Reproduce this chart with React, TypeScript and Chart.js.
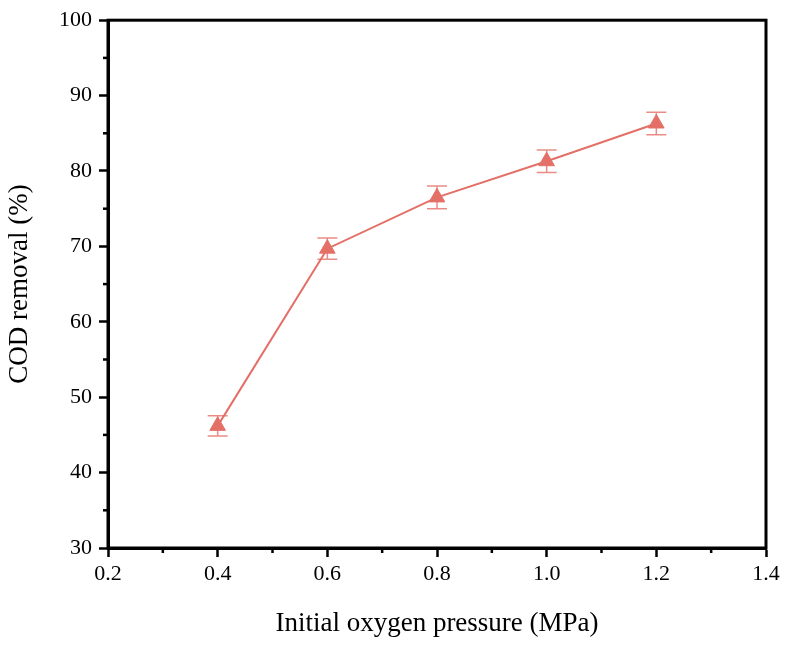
import React, { useEffect, useRef } from 'react';
import { Chart, ChartConfiguration, Plugin } from 'chart.js/auto';

const pressure = [0.4, 0.6, 0.8, 1.0, 1.2];
const codRemoval = [46.2, 69.7, 76.5, 81.3, 86.3];
const codError = [1.35, 1.4, 1.5, 1.5, 1.5];

const lineColor = 'rgb(228, 111, 103)';
const errColor = 'rgba(228, 111, 103, 0.8)';
const fontFamily = '"Liberation Serif", "Times New Roman", serif';

// error bars drawn from the data arrays through the scales
const errorBars: Plugin = {
  id: 'errorBars',
  beforeDatasetsDraw(chart) {
    const { ctx, scales } = chart;
    const x = scales.x;
    const y = scales.y;
    ctx.save();
    ctx.strokeStyle = errColor;
    ctx.lineWidth = 1.5;
    pressure.forEach((p, i) => {
      const px = x.getPixelForValue(p);
      const top = y.getPixelForValue(codRemoval[i] + codError[i]);
      const bot = y.getPixelForValue(codRemoval[i] - codError[i]);
      ctx.beginPath();
      ctx.moveTo(px, top);
      ctx.lineTo(px, bot);
      ctx.moveTo(px - 10, top);
      ctx.lineTo(px + 10, top);
      ctx.moveTo(px - 10, bot);
      ctx.lineTo(px + 10, bot);
      ctx.stroke();
    });
    ctx.restore();
  },
};

// box frame plus short minor ticks between the major ones
const frameAndMinor: Plugin = {
  id: 'frameAndMinor',
  afterDraw(chart) {
    const { ctx, chartArea, scales } = chart;
    ctx.save();
    ctx.strokeStyle = '#000';
    ctx.lineWidth = 2.5;
    const xt = scales.x.ticks.map(t => t.value);
    for (let i = 0; i < xt.length - 1; i++) {
      const px = scales.x.getPixelForValue((xt[i] + xt[i + 1]) / 2);
      ctx.beginPath();
      ctx.moveTo(px, chartArea.bottom);
      ctx.lineTo(px, chartArea.bottom + 5);
      ctx.stroke();
    }
    const yt = scales.y.ticks.map(t => t.value);
    for (let i = 0; i < yt.length - 1; i++) {
      const py = scales.y.getPixelForValue((yt[i] + yt[i + 1]) / 2);
      ctx.beginPath();
      ctx.moveTo(chartArea.left, py);
      ctx.lineTo(chartArea.left - 5, py);
      ctx.stroke();
    }
    ctx.lineWidth = 3;
    ctx.strokeRect(chartArea.left, chartArea.top, chartArea.right - chartArea.left, chartArea.bottom - chartArea.top);
    ctx.restore();
  },
};

const App: React.FC = () => {
  const chartRef = useRef<HTMLCanvasElement>(null);
  const chartInstanceRef = useRef<Chart | null>(null);

  useEffect(() => {
    if (!chartRef.current) return;
    const ctx = chartRef.current.getContext('2d');
    if (!ctx) return;
    if (chartInstanceRef.current) chartInstanceRef.current.destroy();

    const config: ChartConfiguration = {
      type: 'line',
      data: {
        datasets: [{
          label: 'COD removal',
          data: pressure.map((p, i) => ({ x: p, y: codRemoval[i] })),
          borderColor: lineColor,
          backgroundColor: lineColor,
          borderWidth: 2,
          pointStyle: 'triangle',
          pointRadius: 9,
          pointBorderWidth: 1,
          pointBackgroundColor: lineColor,
          pointBorderColor: lineColor,
          tension: 0,
        }],
      },
      options: {
        animation: false,
        responsive: true,
        maintainAspectRatio: false,
        layout: { padding: { top: 18, right: 22, left: 0, bottom: 0 } },
        plugins: {
          legend: { display: false },
          tooltip: { enabled: false },
        },
        scales: {
          x: {
            type: 'linear',
            min: 0.2,
            max: 1.4,
            afterFit: (scale) => { scale.height = 98; },
            ticks: {
              stepSize: 0.2,
              padding: 4,
              color: '#000',
              font: { family: fontFamily, size: 22 },
              callback: (v) => Number(v).toFixed(1),
            },
            grid: { drawOnChartArea: false, drawTicks: true, tickLength: 9, tickWidth: 2.5, tickColor: '#000' },
            border: { display: true, color: '#000', width: 3 },
            title: {
              display: true,
              text: 'Initial oxygen pressure (MPa)',
              color: '#000',
              font: { family: fontFamily, size: 27 },
              padding: { top: 0, bottom: 6 },
            },
          },
          y: {
            type: 'linear',
            min: 30,
            max: 100,
            afterFit: (scale) => { scale.width = 108; },
            ticks: {
              stepSize: 10,
              padding: 7,
              color: '#000',
              font: { family: fontFamily, size: 22 },
            },
            grid: { drawOnChartArea: false, drawTicks: true, tickLength: 9, tickWidth: 2.5, tickColor: '#000' },
            border: { display: true, color: '#000', width: 3 },
            title: {
              display: true,
              text: 'COD removal (%)',
              color: '#000',
              font: { family: fontFamily, size: 27 },
              padding: { top: 4, bottom: 0 },
            },
          },
        },
      },
      plugins: [errorBars, frameAndMinor],
    };

    chartInstanceRef.current = new Chart(ctx, config);
    return () => {
      if (chartInstanceRef.current) {
        chartInstanceRef.current.destroy();
        chartInstanceRef.current = null;
      }
    };
  }, []);

  return (
    <div style={{ position: 'absolute', left: 0, top: 0, width: 788, height: 646, background: '#fff' }}>
      <canvas ref={chartRef}></canvas>
    </div>
  );
};

export default App;
